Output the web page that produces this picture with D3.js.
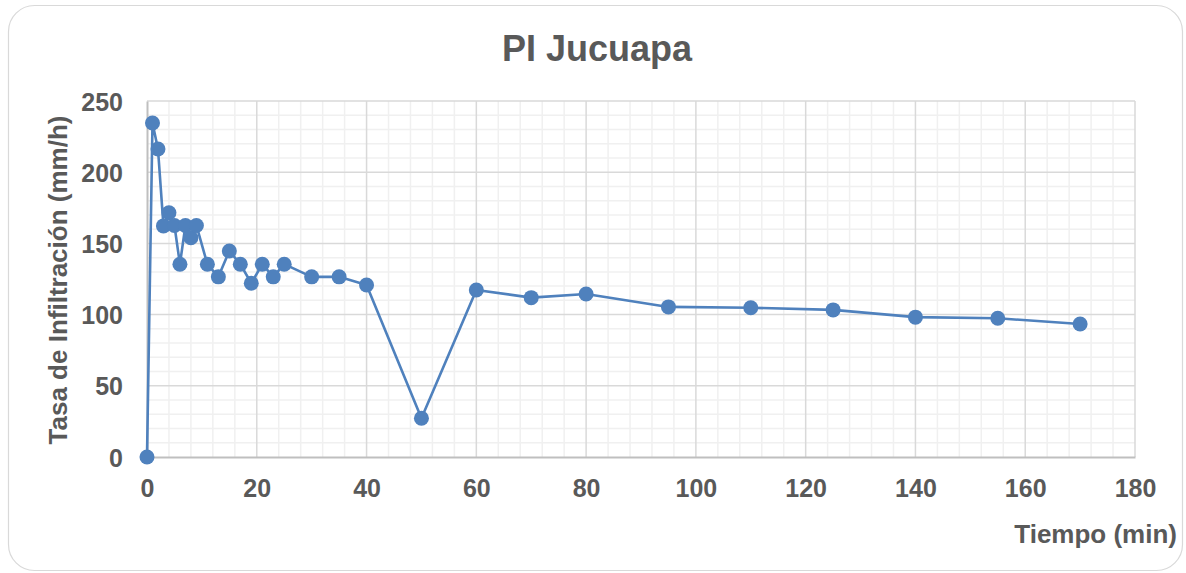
<!DOCTYPE html>
<html>
<head>
<meta charset="utf-8">
<script src="https://cdn.jsdelivr.net/npm/d3@7/dist/d3.min.js"></script>
<style>
  html, body { margin: 0; padding: 0; background: #fff; }
  svg { display: block; font-family: "Liberation Sans", Arial, sans-serif; }
</style>
</head>
<body>
<svg id="chart" width="1186" height="573"></svg>
<script>
// Infiltration test, Jucuapa: elapsed time (min) and infiltration rate (mm/h)
const tiempo = [0, 1, 2, 3, 4, 5, 6, 7, 8, 9, 11, 13, 15, 17, 19, 21, 23, 25, 30, 35, 40, 50, 60, 70, 80, 95, 110, 125, 140, 155, 170];
const tasa   = [0, 234.6, 216.3, 162.3, 171.5, 162.6, 135.4, 162.6, 154, 162.6, 135.4, 126.5, 144.7, 135.4, 122, 135.4, 126.5, 135.4, 126.5, 126.5, 120.8, 27.2, 117.3, 111.9, 114.5, 105.4, 104.8, 103.3, 98.2, 97.4, 93.4];
const xTicks = [0, 20, 40, 60, 80, 100, 120, 140, 160, 180];
const yTicks = [0, 50, 100, 150, 200, 250];
const titulo = "PI Jucuapa";
const tituloX = "Tiempo (min)";
const tituloY = "Tasa de Infiltración (mm/h)";

const svg = d3.select("#chart");
const plot = { left: 147, right: 1135, top: 101, bottom: 457 };
const textColor = "#595959";
const seriesColor = "#4f81bd";

// Outer chart frame
svg.append("rect")
  .attr("x", 8.5).attr("y", 5.5)
  .attr("width", 1174).attr("height", 565)
  .attr("rx", 26).attr("ry", 26)
  .attr("fill", "#fff")
  .attr("stroke", "#d9d9d9").attr("stroke-width", 1.2);

const x = d3.scaleLinear().domain([0, 180]).range([plot.left, plot.right]);
const y = d3.scaleLinear().domain([0, 250]).range([plot.bottom, plot.top]);

const grid = svg.append("g");
// Minor gridlines
grid.selectAll("line.mx").data(d3.range(0, 181, 4).filter(v => v % 20 !== 0))
  .join("line")
  .attr("x1", d => x(d)).attr("x2", d => x(d))
  .attr("y1", plot.top).attr("y2", plot.bottom)
  .attr("stroke", "#f0f0f0").attr("stroke-width", 1.5);
grid.selectAll("line.my").data(d3.range(0, 251, 10).filter(v => v % 50 !== 0))
  .join("line")
  .attr("x1", plot.left).attr("x2", plot.right)
  .attr("y1", d => y(d)).attr("y2", d => y(d))
  .attr("stroke", "#f0f0f0").attr("stroke-width", 1.5);
// Major gridlines
grid.selectAll("line.Mx").data(xTicks.slice(1))
  .join("line")
  .attr("x1", d => x(d)).attr("x2", d => x(d))
  .attr("y1", plot.top).attr("y2", plot.bottom)
  .attr("stroke", "#d9d9d9").attr("stroke-width", 1.5);
grid.selectAll("line.My").data(yTicks.slice(1))
  .join("line")
  .attr("x1", plot.left).attr("x2", plot.right)
  .attr("y1", d => y(d)).attr("y2", d => y(d))
  .attr("stroke", "#d9d9d9").attr("stroke-width", 1.5);

// Axes
const xAxis = svg.append("g")
  .attr("transform", `translate(0,${plot.bottom})`)
  .call(d3.axisBottom(x).tickValues(xTicks).tickSize(0).tickPadding(22));
const yAxis = svg.append("g")
  .attr("transform", `translate(${plot.left},0)`)
  .call(d3.axisLeft(y).tickValues(yTicks).tickSize(0).tickPadding(24));
[xAxis, yAxis].forEach(a => {
  a.select(".domain").attr("stroke", "#bfbfbf").attr("stroke-width", 2);
  a.selectAll("text")
    .attr("fill", textColor)
    .attr("font-size", 25)
    .attr("font-weight", "bold")
    .attr("font-family", "'Liberation Sans', Arial, sans-serif");
});
yAxis.selectAll("text").attr("dy", "0.36em");

// Series line and markers
const line = d3.line().x((d, i) => x(tiempo[i])).y(d => y(d));
svg.append("path")
  .datum(tasa)
  .attr("d", line)
  .attr("fill", "none")
  .attr("stroke", seriesColor)
  .attr("stroke-width", 2.6)
  .attr("stroke-linejoin", "round");
svg.append("g").selectAll("circle")
  .data(tasa)
  .join("circle")
  .attr("cx", (d, i) => x(tiempo[i]))
  .attr("cy", d => y(d))
  .attr("r", 7.5)
  .attr("fill", seriesColor);

// Titles
svg.append("text")
  .attr("x", 597).attr("y", 61)
  .attr("text-anchor", "middle")
  .attr("fill", textColor)
  .attr("font-size", 36).attr("font-weight", "bold")
  .text(titulo);
svg.append("text")
  .attr("x", 1177).attr("y", 543)
  .attr("text-anchor", "end")
  .attr("fill", textColor)
  .attr("font-size", 26).attr("font-weight", "bold")
  .text(tituloX);
svg.append("text")
  .attr("transform", "translate(67,280) rotate(-90)")
  .attr("text-anchor", "middle")
  .attr("fill", textColor)
  .attr("font-size", 26).attr("font-weight", "bold")
  .text(tituloY);
</script>
</body>
</html>
